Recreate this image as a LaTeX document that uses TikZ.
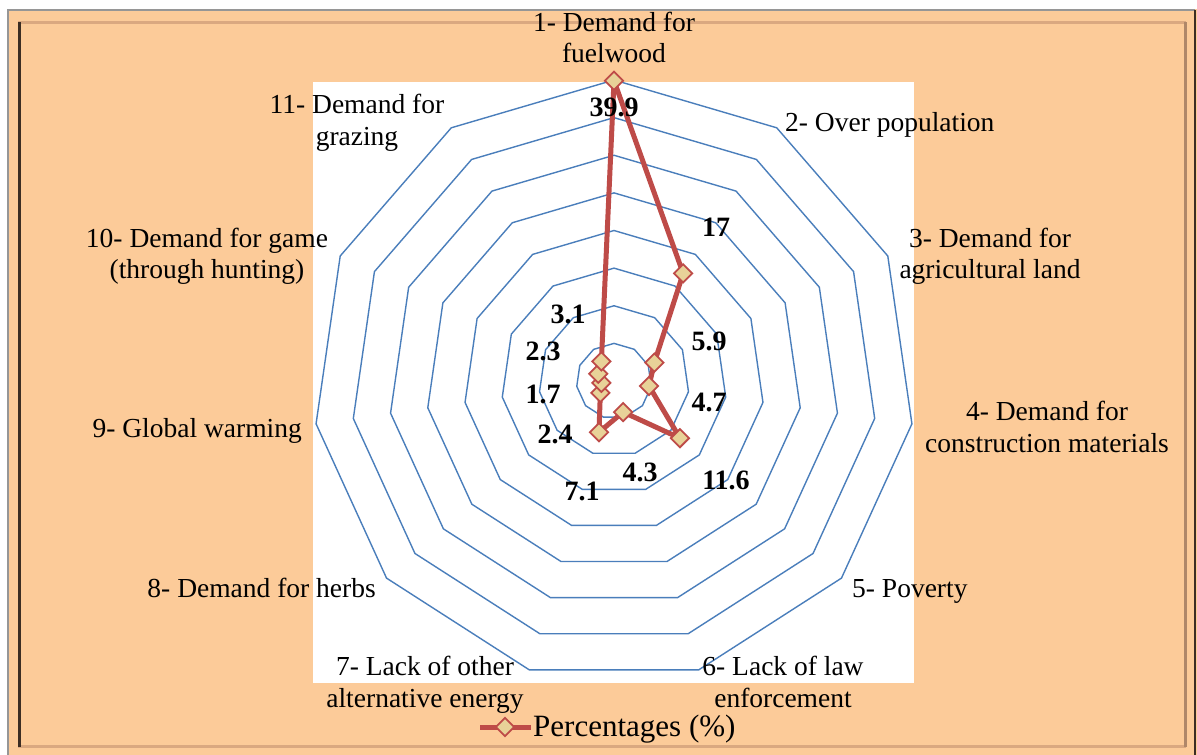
\documentclass[tikz,border=0pt]{standalone}
\usepackage{fontspec}
\setmainfont{Liberation Serif}
\usetikzlibrary{shapes.geometric}
\definecolor{bgorange}{RGB}{252,203,153}
\definecolor{ringblue}{RGB}{74,126,187}
\definecolor{datared}{RGB}{190,75,72}
\definecolor{markfill}{RGB}{232,210,152}
\definecolor{framedark}{RGB}{60,45,35}
\definecolor{framemid}{RGB}{175,135,105}
\definecolor{framelight}{RGB}{218,168,128}
\definecolor{framegrey}{RGB}{150,150,150}
\begin{document}
\begin{tikzpicture}[x=1pt,y=-1pt,
  ring/.style={draw=ringblue,line width=1.4pt,line join=miter},
  lbl/.style={font=\fontsize{27.5}{31.5}\selectfont,anchor=base,inner sep=0},
  val/.style={font=\fontsize{28}{32}\selectfont\bfseries,inner sep=0},
  dataline/.style={draw=datared,line width=5pt,line join=round},
  marker/.style={diamond,draw=datared,fill=markfill,line width=1.8pt,minimum size=19pt,inner sep=0}]
\useasboundingbox (0,0) rectangle (1197,755);
\fill[white] (0,0) rectangle (1197,755);
\fill[bgorange] (7,9) rectangle (1197,755);
% frame
\draw[framegrey,line width=2pt] (8,755) -- (8,10) -- (1195,10);
\draw[framedark,line width=2pt] (1195,10) -- (1195,755);
\draw[framelight,line width=3pt] (18,22.5) -- (1186,22.5);
\draw[framelight,line width=3pt] (18,746) -- (1186,746);
\draw[framemid,line width=3pt] (1185,22) -- (1185,747);
\draw[framedark,line width=3pt] (19.5,22) -- (19.5,747);
% plot area
\fill[white] (313,82) rectangle (914,683);
% rings
\foreach \k in {1,...,8} {
  \draw[ring] plot[samples at={0,...,10},variable=\t]
    ({614+\k*37.625*sin(\t*360/11)},{381-\k*37.625*cos(\t*360/11)}) -- cycle;
}
% data
\foreach \v [count=\i from 0] in {39.9,17,5.9,4.7,11.6,4.3,7.1,2.4,1.7,2.3,3.1} {
  \coordinate (c\i) at ({614+\v*7.525*sin(\i*360/11)},{381-\v*7.525*cos(\i*360/11)});
}
\draw[dataline] (c0) -- (c1) -- (c2) -- (c3) -- (c4) -- (c5) -- (c6) -- (c7) -- (c8) -- (c9) -- (c10) -- cycle;
\foreach \i in {0,...,10} { \node[marker] (m\i) at (c\i) {}; }
% value labels
\node[val] (v1) at (614,107) {39.9};
\node[val] (v2) at (716,227) {17};
\node[val] (v3) at (709,341) {5.9};
\node[val] (v4) at (709,402) {4.7};
\node[val] (v5) at (726,480) {11.6};
\node[val] (v6) at (640,472) {4.3};
\node[val] (v7) at (582,491) {7.1};
\node[val] (v8) at (555,434) {2.4};
\node[val] (v9) at (543,394) {1.7};
\node[val] (v10) at (543,351) {2.3};
\node[val] (v11) at (568,314) {3.1};
% category labels
\node[lbl] (t1a) at (614,31) {1- Demand for};
\node[lbl] (t1b) at (614,62) {fuelwood};
\node[lbl,anchor=base west] (t2) at (785,131) {2- Over population};
\node[lbl] (t3a) at (990,247) {3- Demand for};
\node[lbl] (t3b) at (990,278) {agricultural land};
\node[lbl] (t4a) at (1047,420) {4- Demand for};
\node[lbl] (t4b) at (1047,452) {construction materials};
\node[lbl,anchor=base west] (t5) at (852,597) {5- Poverty};
\node[lbl] (t6a) at (783,675) {6- Lack of law};
\node[lbl] (t6b) at (783,707) {enforcement};
\node[lbl] (t7a) at (425,675) {7- Lack of other};
\node[lbl] (t7b) at (425,707) {alternative energy};
\node[lbl,anchor=base east] (t8) at (376,597) {8- Demand for herbs};
\node[lbl,anchor=base east] (t9) at (302,437) {9- Global warming};
\node[lbl] (t10a) at (207,247) {10- Demand for game};
\node[lbl] (t10b) at (207,278) {(through hunting)};
\node[lbl] (t11a) at (357,113) {11- Demand for};
\node[lbl] (t11b) at (357,145) {grazing};
% legend
\coordinate (lgA) at (480,727);
\coordinate (lgB) at (531,727);
\draw[dataline] (lgA) -- (lgB);
\node[marker] (lgm) at (505,727) {};
\node[font=\fontsize{31}{35}\selectfont,anchor=base west,inner sep=0] (leg) at (533,736) {Percentages (\%)};
\end{tikzpicture}
\end{document}
